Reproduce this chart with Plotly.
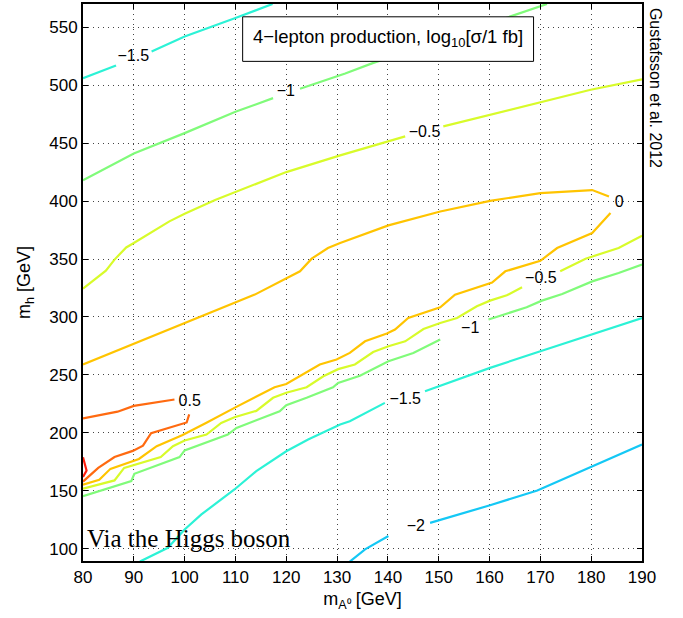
import plotly.graph_objects as go

# Contour lines of log10(sigma / 1 fb) in the (m_A0, m_h) plane.
# None entries split a level into separate pieces (label gaps / branches).
levels = [-2, -1.5, -1, -0.5, 0, 0.5, 1]
level_colors = ["#14c8f5", "#2cf2d6", "#80fb7a", "#d8fb2a", "#ffc400", "#ff6a10", "#ff2010"]

mA_lvl_m2 = [132.5, 135.5, 140.1, None, 148.3, 160.1, 169.4, 179.9, 190]
mh_lvl_m2 = [89, 99.5, 111, None, 122.4, 137.6, 150.3, 170.4, 190]

mA_lvl_m15 = [80, 86.5, None, 93.5, 100, 110, 117.3, None,
              91.2, 96.7, 100, 103.3, 109.8, 114.1, 120, 124.3, 130.6, 132.5, 139.4, None,
              147.3, 160.1, 170, 180.2, 190]
mh_lvl_m15 = [506, 517, None, 529, 542, 558, 570, None,
              89, 100.9, 116.7, 129.7, 151.2, 167, 184.2, 194.3, 207.2, 210, 225.9, None,
              236, 256.1, 270.4, 285.3, 299.1]

mA_lvl_m1 = [80, 90, 100, 110, 117.4, None, 122.7, 131.6, 137, 163.4, 171.3, None,
             80, 89.5, 90.1, 99, 100, 108.5, 110.2, 118.7, 120, 124, 129.2, 130.2, 134.5,
             140.1, 145, 150.3, None, 159.8, 167.3, 170.3, 174.3, 180.2, 185.4, 190]
mh_lvl_m1 = [418, 441, 458.6, 477, 488.8, None, 496.9, 510, 519, 558.6, 570, None,
             145.4, 158.4, 164.7, 179.1, 184.9, 198.6, 204.3, 218.7, 224, 230.3, 239.4, 243.1, 249.3,
             261.8, 269, 280.5, None, 297.8, 308.4, 314.1, 319.8, 330.7, 337.9, 345.2]

mA_lvl_m05 = [80, 84.5, 86.2, 88.5, 90, 97, 100, 106, 120, 130.6, 143.4, None,
              150.9, 179.9, 190, None,
              80, 86.2, 88.1, 91.8, 95.3, 97.7, 100, 104.3, 107.2, 109.8, 114.1, 117.4, 120,
              124, 127.3, 130.2, 133.5, 137.1, 140.1, 143.4, 147, 150.3, 153.6, 157.5, 160.1,
              163.4, 166.4, None, 173.9, 178.9, 185.4, 190]
mh_lvl_m05 = [324.5, 340, 349.5, 360, 363.8, 382.5, 389, 401, 425, 439.4, 455.8, None,
              464.4, 496, 505, None,
              151.9, 159, 169.8, 174.8, 179.1, 188.5, 193.5, 198.6, 208.6, 213.5, 219, 230.3, 234.7,
              239.4, 248.9, 255, 259, 269.8, 274.8, 279, 289.6, 294.8, 299.1, 309.2, 314.1,
              318.7, 325.6, None, 339.4, 350.3, 359.5, 370]

mA_lvl_0 = [80, 90, 97.7, 103.6, 113.8, 122.7, 125, 128.2, 130.6, 140.1, 150.3, 160.1, 170,
            180.2, 183.5, None,
            183.8, 180.2, 173.3, 170, 163.1, 160.5, 153.2, 150.3, 144, 141.4, 139.8, 135.5,
            132.5, 129.9, 126.6, 123.3, 120, 117.7, 114.1, 109.8, 104.2, 99.5, 94.5, 91, 85.4,
            83.2, 80]
mh_lvl_0 = [259, 276.7, 290.5, 300.6, 319.3, 339.4, 350.3, 359.5, 363.8, 379, 391, 400.2, 406.9,
            409.5, 404, None,
            389.7, 372.4, 359.5, 348.5, 339.4, 329.7, 319.3, 308.4, 299.2, 289.2, 285.7, 279,
            269, 263.3, 259, 250.3, 242.2, 239.4, 231.6, 221.6, 208.6, 198, 188.6, 177.5, 169,
            159.5, 155.4]

mA_lvl_05 = [80, 86.8, 90, 98, None, 100.9, 100.4, 93.4, 91.8, 89.8, 86.2, 83, 80]
mh_lvl_05 = [212.6, 218.3, 223.3, 228.8, None, 216, 209, 199.7, 189, 184.5, 179.2, 169.8, 158]

mA_lvl_1 = [80, 80.5, 80.7, 80]
mh_lvl_1 = [179, 169.8, 167.5, 162]

# Inline contour labels
label_text = ["\u22122", "\u22121.5", "\u22121.5", "\u22121", "\u22121", "\u22120.5", "\u22120.5", "0", "0.5"]
label_mA = [145.5, 143.4, 89.9, 119.9, 156.2, 147.2, 170.1, 185.5, 101.0]
label_mh = [118.9, 228.4, 523.9, 493.7, 289.4, 458.6, 332.5, 398.3, 226.3]

x_ticks = list(range(80, 191, 10))
y_ticks = list(range(100, 551, 50))

curves_x = [mA_lvl_m2, mA_lvl_m15, mA_lvl_m1, mA_lvl_m05, mA_lvl_0, mA_lvl_05, mA_lvl_1]
curves_y = [mh_lvl_m2, mh_lvl_m15, mh_lvl_m1, mh_lvl_m05, mh_lvl_0, mh_lvl_05, mh_lvl_1]

FONT = "Liberation Sans, Arial, Helvetica, sans-serif"

fig = go.Figure()
for lvl, col, xs, ys in zip(levels, level_colors, curves_x, curves_y):
    fig.add_trace(go.Scatter(
        x=xs, y=ys, mode="lines", name=str(lvl),
        line=dict(color=col, width=2.2), connectgaps=False,
        hoverinfo="skip", showlegend=False,
    ))

fig.add_trace(go.Scatter(
    x=label_mA, y=label_mh, mode="text", text=label_text,
    textfont=dict(family=FONT, size=16, color="black"),
    hoverinfo="skip", showlegend=False, cliponaxis=False,
))

axis_common = dict(
    showline=True, linewidth=2, linecolor="black", mirror="allticks",
    ticks="inside", ticklen=5, tickwidth=1, tickcolor="black",
    showgrid=True, gridcolor="#444444", gridwidth=1, griddash="1px,4px",
    zeroline=False,
    tickfont=dict(family=FONT, size=17, color="black"),
)

fig.update_layout(
    width=683, height=618,
    margin=dict(l=83, r=41, t=2, b=57),
    paper_bgcolor="white", plot_bgcolor="white",
    xaxis=dict(
        range=[80, 190], tickvals=x_ticks,
        title=dict(text="m<sub>A\u2070</sub> [GeV]", font=dict(family=FONT, size=18, color="black"),
                   standoff=6),
        **axis_common,
    ),
    yaxis=dict(
        range=[89.5, 570], tickvals=y_ticks,
        title=dict(text="m<sub>h</sub> [GeV]", font=dict(family=FONT, size=18, color="black"),
                   standoff=14),
        **axis_common,
    ),
    shapes=[dict(
        type="rect", xref="paper", yref="paper",
        x0=0.2856, x1=0.806, y0=0.897, y1=0.977,
        line=dict(color="black", width=1), fillcolor="white", layer="above",
    )],
    annotations=[
        dict(text="4\u2212lepton production, log<sub>10</sub>[\u03c3/1 fb]",
             xref="paper", yref="paper", x=0.546, y=0.939,
             xanchor="center", yanchor="middle", showarrow=False,
             font=dict(family=FONT, size=18.5, color="black")),
        dict(text="Gustafsson et al. 2012",
             xref="paper", yref="paper", x=1.0244, y=0.850,
             xanchor="center", yanchor="middle", textangle=90, showarrow=False,
             font=dict(family=FONT, size=16, color="black")),
        dict(text="Via the Higgs boson",
             xref="paper", yref="paper", x=0.003, y=0.041,
             xanchor="left", yanchor="middle", showarrow=False,
             font=dict(family="Liberation Serif, Times New Roman, serif", size=25, color="black")),
    ],
)

fig.write_html("out.html")
